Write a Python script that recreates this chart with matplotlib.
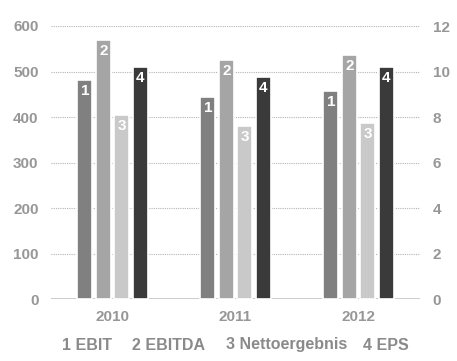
import matplotlib.pyplot as plt
import numpy as np

plt.rcParams['font.family'] = ['Liberation Sans', 'DejaVu Sans']
plt.rcParams['font.weight'] = 'bold'

# Kennzahlen je Geschäftsjahr
years = ['2010', '2011', '2012']
ebit = [481, 444, 458]
ebitda = [569, 526, 537]
netto = [404, 381, 387]
eps = [10.2, 9.75, 10.2]

series_labels = ['1', '2', '3', '4']
legend_items = ['1 EBIT', '2 EBITDA', '3 Nettoergebnis', '4 EPS']
legend_x = [87, 168, 286.5, 386]
colors = ['#808080', '#a5a5a5', '#c9c9c9', '#3a3a3a']
tick_color = '#979797'

fig = plt.figure(figsize=(4.57, 3.61), dpi=100)
ax = fig.add_axes([51 / 457, 61.7 / 361, 369 / 457, 273.3 / 361])
ax2 = ax.twinx()

x = np.arange(len(years))
step = 0.15
width = 0.122
offsets = [-1.5, -0.5, 0.5, 1.5]


def label_bars(a, bars, txt):
    for b in bars:
        a.annotate(txt, (b.get_x() + b.get_width() / 2, b.get_height()),
                   xytext=(0, -3), textcoords='offset points', ha='center', va='top',
                   color='white', fontsize=11, fontweight='bold', zorder=4)


for i, vals in enumerate([ebit, ebitda, netto]):
    bars = ax.bar(x + offsets[i] * step, vals, width, color=colors[i],
                  edgecolor='white', linewidth=1.2, zorder=3)
    label_bars(ax, bars, series_labels[i])

bars = ax2.bar(x + offsets[3] * step, eps, width, color=colors[3],
               edgecolor='white', linewidth=1.2, zorder=3)
label_bars(ax2, bars, series_labels[3])

ax.set_xlim(-0.5, 2.5)
ax.set_ylim(0, 600)
ax2.set_ylim(0, 12)
ax.set_yticks(range(0, 601, 100))
ax2.set_yticks(range(0, 13, 2))

ax.set_xticks(x)
ax.set_xticklabels(years)

for a in (ax, ax2):
    for s in a.spines.values():
        s.set_visible(False)
    a.tick_params(length=0, colors=tick_color, labelsize=11)
    a.set_facecolor('none')
ax.tick_params(axis='y', pad=9)
ax2.tick_params(axis='y', pad=9)
ax.tick_params(axis='x', pad=8)

# gepunktete Hilfslinien hinter den Balken
ax.hlines(range(100, 601, 100), -0.5, 2.5, colors='#b4b4b4',
          linestyles=(0, (1, 1)), linewidth=0.8, zorder=1)
ax.axhline(0, color='#c8c8c8', linewidth=2, zorder=2)

for txt, px in zip(legend_items, legend_x):
    fig.text(px / 457, 1 - 345 / 361, txt, ha='center', va='center',
             color='#8a8a8a', fontsize=11.5, fontweight='bold')

fig.savefig('out.png', dpi=100)
